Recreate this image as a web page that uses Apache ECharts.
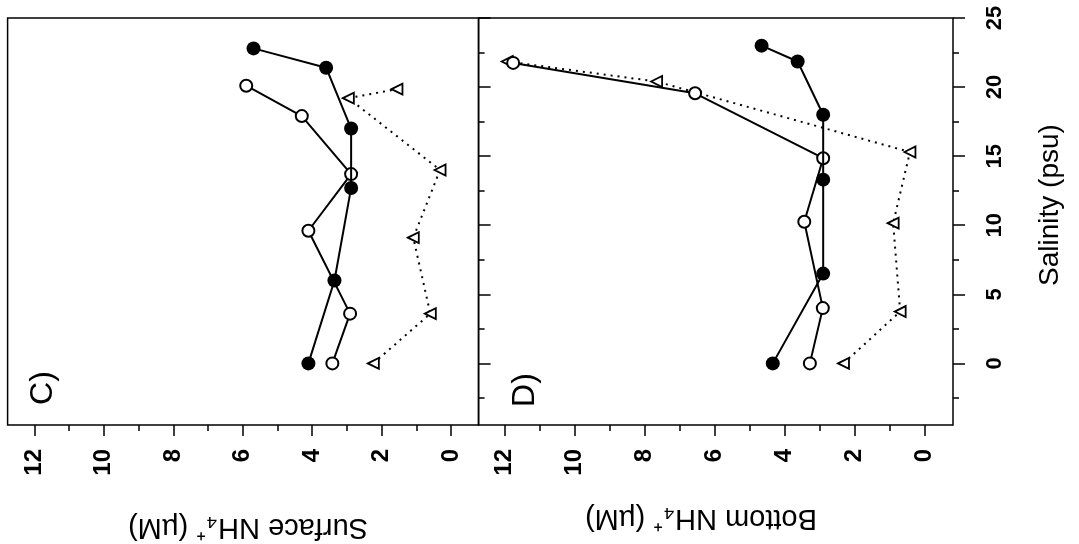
<!DOCTYPE html>
<html>
<head>
<meta charset="utf-8">
<script src="https://cdn.jsdelivr.net/npm/echarts@6/dist/echarts.min.js"></script>
<style>
  html, body { margin: 0; padding: 0; background: #ffffff; }
  #NitrogenChart { width: 1079px; height: 544px; }
</style>
</head>
<body>
<div id="NitrogenChart"></div>
<script>
// panel C (surface)
const surfSalFilled = [0, 6.0, 12.7, 17.0, 21.4, 22.8]
const surfNh4Filled = [4.11, 3.36, 2.88, 2.88, 3.6, 5.69]
const surfSalOpen = [0, 3.6, 9.6, 13.7, 17.9, 20.1]
const surfNh4Open = [3.42, 2.91, 4.11, 2.88, 4.3, 5.9]
const surfSalTri = [0, 3.6, 9.1, 14.0, 19.2, 19.85]
const surfNh4Tri = [2.24, 0.6, 1.09, 0.32, 2.96, 1.56]

// panel D (bottom)
const botSalFilled = [0, 6.5, 13.3, 18.0, 21.85, 23.0]
const botNh4Filled = [4.33, 2.89, 2.89, 2.89, 3.62, 4.65]
const botSalOpen = [0, 4.0, 10.25, 14.85, 19.55, 21.75]
const botNh4Open = [3.27, 2.9, 3.43, 2.89, 6.55, 11.75]
const botSalTri = [0, 3.75, 10.15, 15.3, 20.4, 21.85]
const botNh4Tri = [2.31, 0.69, 0.89, 0.41, 7.65, 11.92]

const nh4MajorTicks = [0, 2, 4, 6, 8, 10, 12]
const nh4MinorTicks = [1, 3, 5, 7, 9, 11]
const salMajorTicks = [0, 5, 10, 15, 20, 25]
const salMinorTicks = [-2.5, 2.5, 7.5, 12.5, 17.5, 22.5]

const fontName = '"Liberation Sans", Arial, sans-serif'

function pairs (xs, ys) {
  return xs.map((x, i) => [x, ys[i]])
}

function nh4Axis (grid, min, max, major) {
  return {
    type: 'value',
    gridIndex: grid,
    position: 'bottom',
    inverse: true,
    min: min,
    max: max,
    axisLine: { show: false, onZero: false },
    splitLine: { show: false },
    axisTick: {
      show: true,
      length: major ? 11 : 6,
      customValues: major ? nh4MajorTicks : nh4MinorTicks,
      lineStyle: { color: '#000', width: 1.5 }
    },
    axisLabel: {
      show: major,
      customValues: nh4MajorTicks,
      rotate: 90,
      margin: 24,
      align: 'right',
      verticalAlign: 'middle',
      color: '#000',
      fontSize: 24,
      fontWeight: 'bold',
      fontFamily: fontName
    }
  }
}

function salAxis (grid, major, labels) {
  return {
    type: 'value',
    gridIndex: grid,
    position: 'right',
    min: -4.46,
    max: 25,
    axisLine: { show: false, onZero: false },
    splitLine: { show: false },
    axisTick: {
      show: true,
      length: major ? 12 : 6,
      customValues: major ? salMajorTicks : salMinorTicks,
      lineStyle: { color: '#000', width: 1.5 }
    },
    axisLabel: {
      show: labels,
      customValues: salMajorTicks,
      rotate: 90,
      margin: 31,
      align: 'center',
      verticalAlign: 'top',
      color: '#000',
      fontSize: 22,
      fontWeight: 'bold',
      fontFamily: fontName
    }
  }
}

function filledSeries (xi, yi, data) {
  return {
    type: 'line',
    xAxisIndex: xi,
    yAxisIndex: yi,
    data: data,
    symbol: 'circle',
    symbolSize: 14,
    itemStyle: { color: '#000' },
    lineStyle: { color: '#000', width: 2 },
    z: 4
  }
}

function openSeries (xi, yi, data) {
  return {
    type: 'line',
    xAxisIndex: xi,
    yAxisIndex: yi,
    data: data,
    symbol: 'circle',
    symbolSize: 12,
    itemStyle: { color: '#fff', borderColor: '#000', borderWidth: 2 },
    lineStyle: { color: '#000', width: 2 },
    z: 3
  }
}

function triSeries (xi, yi, data) {
  return {
    type: 'line',
    xAxisIndex: xi,
    yAxisIndex: yi,
    data: data,
    symbol: 'triangle',
    symbolRotate: 90,
    symbolSize: 11,
    itemStyle: { color: '#fff', borderColor: '#000', borderWidth: 1.8 },
    lineStyle: { color: '#000', width: 2, type: [2, 5] },
    z: 2
  }
}

function label (text, x, y, rot, size) {
  return {
    type: 'text',
    x: x,
    y: y,
    rotation: rot,
    style: {
      text: text,
      fill: '#000',
      fontSize: size,
      fontFamily: fontName,
      align: 'center',
      verticalAlign: 'middle'
    }
  }
}

function drawChart () {
  const chart = echarts.init(document.getElementById('NitrogenChart'))
  const option = {
    animation: false,
    backgroundColor: '#ffffff',
    textStyle: { fontFamily: fontName },
    grid: [
      { left: 7.6, top: 18, width: 471, height: 407, show: true, borderColor: '#000', borderWidth: 1.5, backgroundColor: 'transparent' },
      { left: 478.5, top: 18, width: 474.5, height: 407, show: true, borderColor: '#000', borderWidth: 1.5, backgroundColor: 'transparent' }
    ],
    xAxis: [
      nh4Axis(0, -0.79, 12.77, true),
      nh4Axis(0, -0.79, 12.77, false),
      nh4Axis(1, -0.82, 12.74, true),
      nh4Axis(1, -0.82, 12.74, false)
    ],
    yAxis: [
      salAxis(0, true, false),
      salAxis(0, false, false),
      salAxis(1, true, true),
      salAxis(1, false, false)
    ],
    series: [
      triSeries(0, 0, pairs(surfNh4Tri, surfSalTri)),
      openSeries(0, 0, pairs(surfNh4Open, surfSalOpen)),
      filledSeries(0, 0, pairs(surfNh4Filled, surfSalFilled)),
      triSeries(2, 2, pairs(botNh4Tri, botSalTri)),
      openSeries(2, 2, pairs(botNh4Open, botSalOpen)),
      filledSeries(2, 2, pairs(botNh4Filled, botSalFilled))
    ],
    graphic: [
      label('C)', 43.5, 388, Math.PI / 2, 32),
      label('D)', 525, 390, Math.PI / 2, 32),
      label('Salinity (psu)', 1050, 205, Math.PI / 2, 28),
      label('Surface NH\u2084\u207A (\u00B5M)', 248, 527, Math.PI, 29),
      label('Bottom NH\u2084\u207A (\u00B5M)', 701, 518, Math.PI, 29)
    ]
  }
  chart.setOption(option)
}

drawChart()
</script>
</body>
</html>
